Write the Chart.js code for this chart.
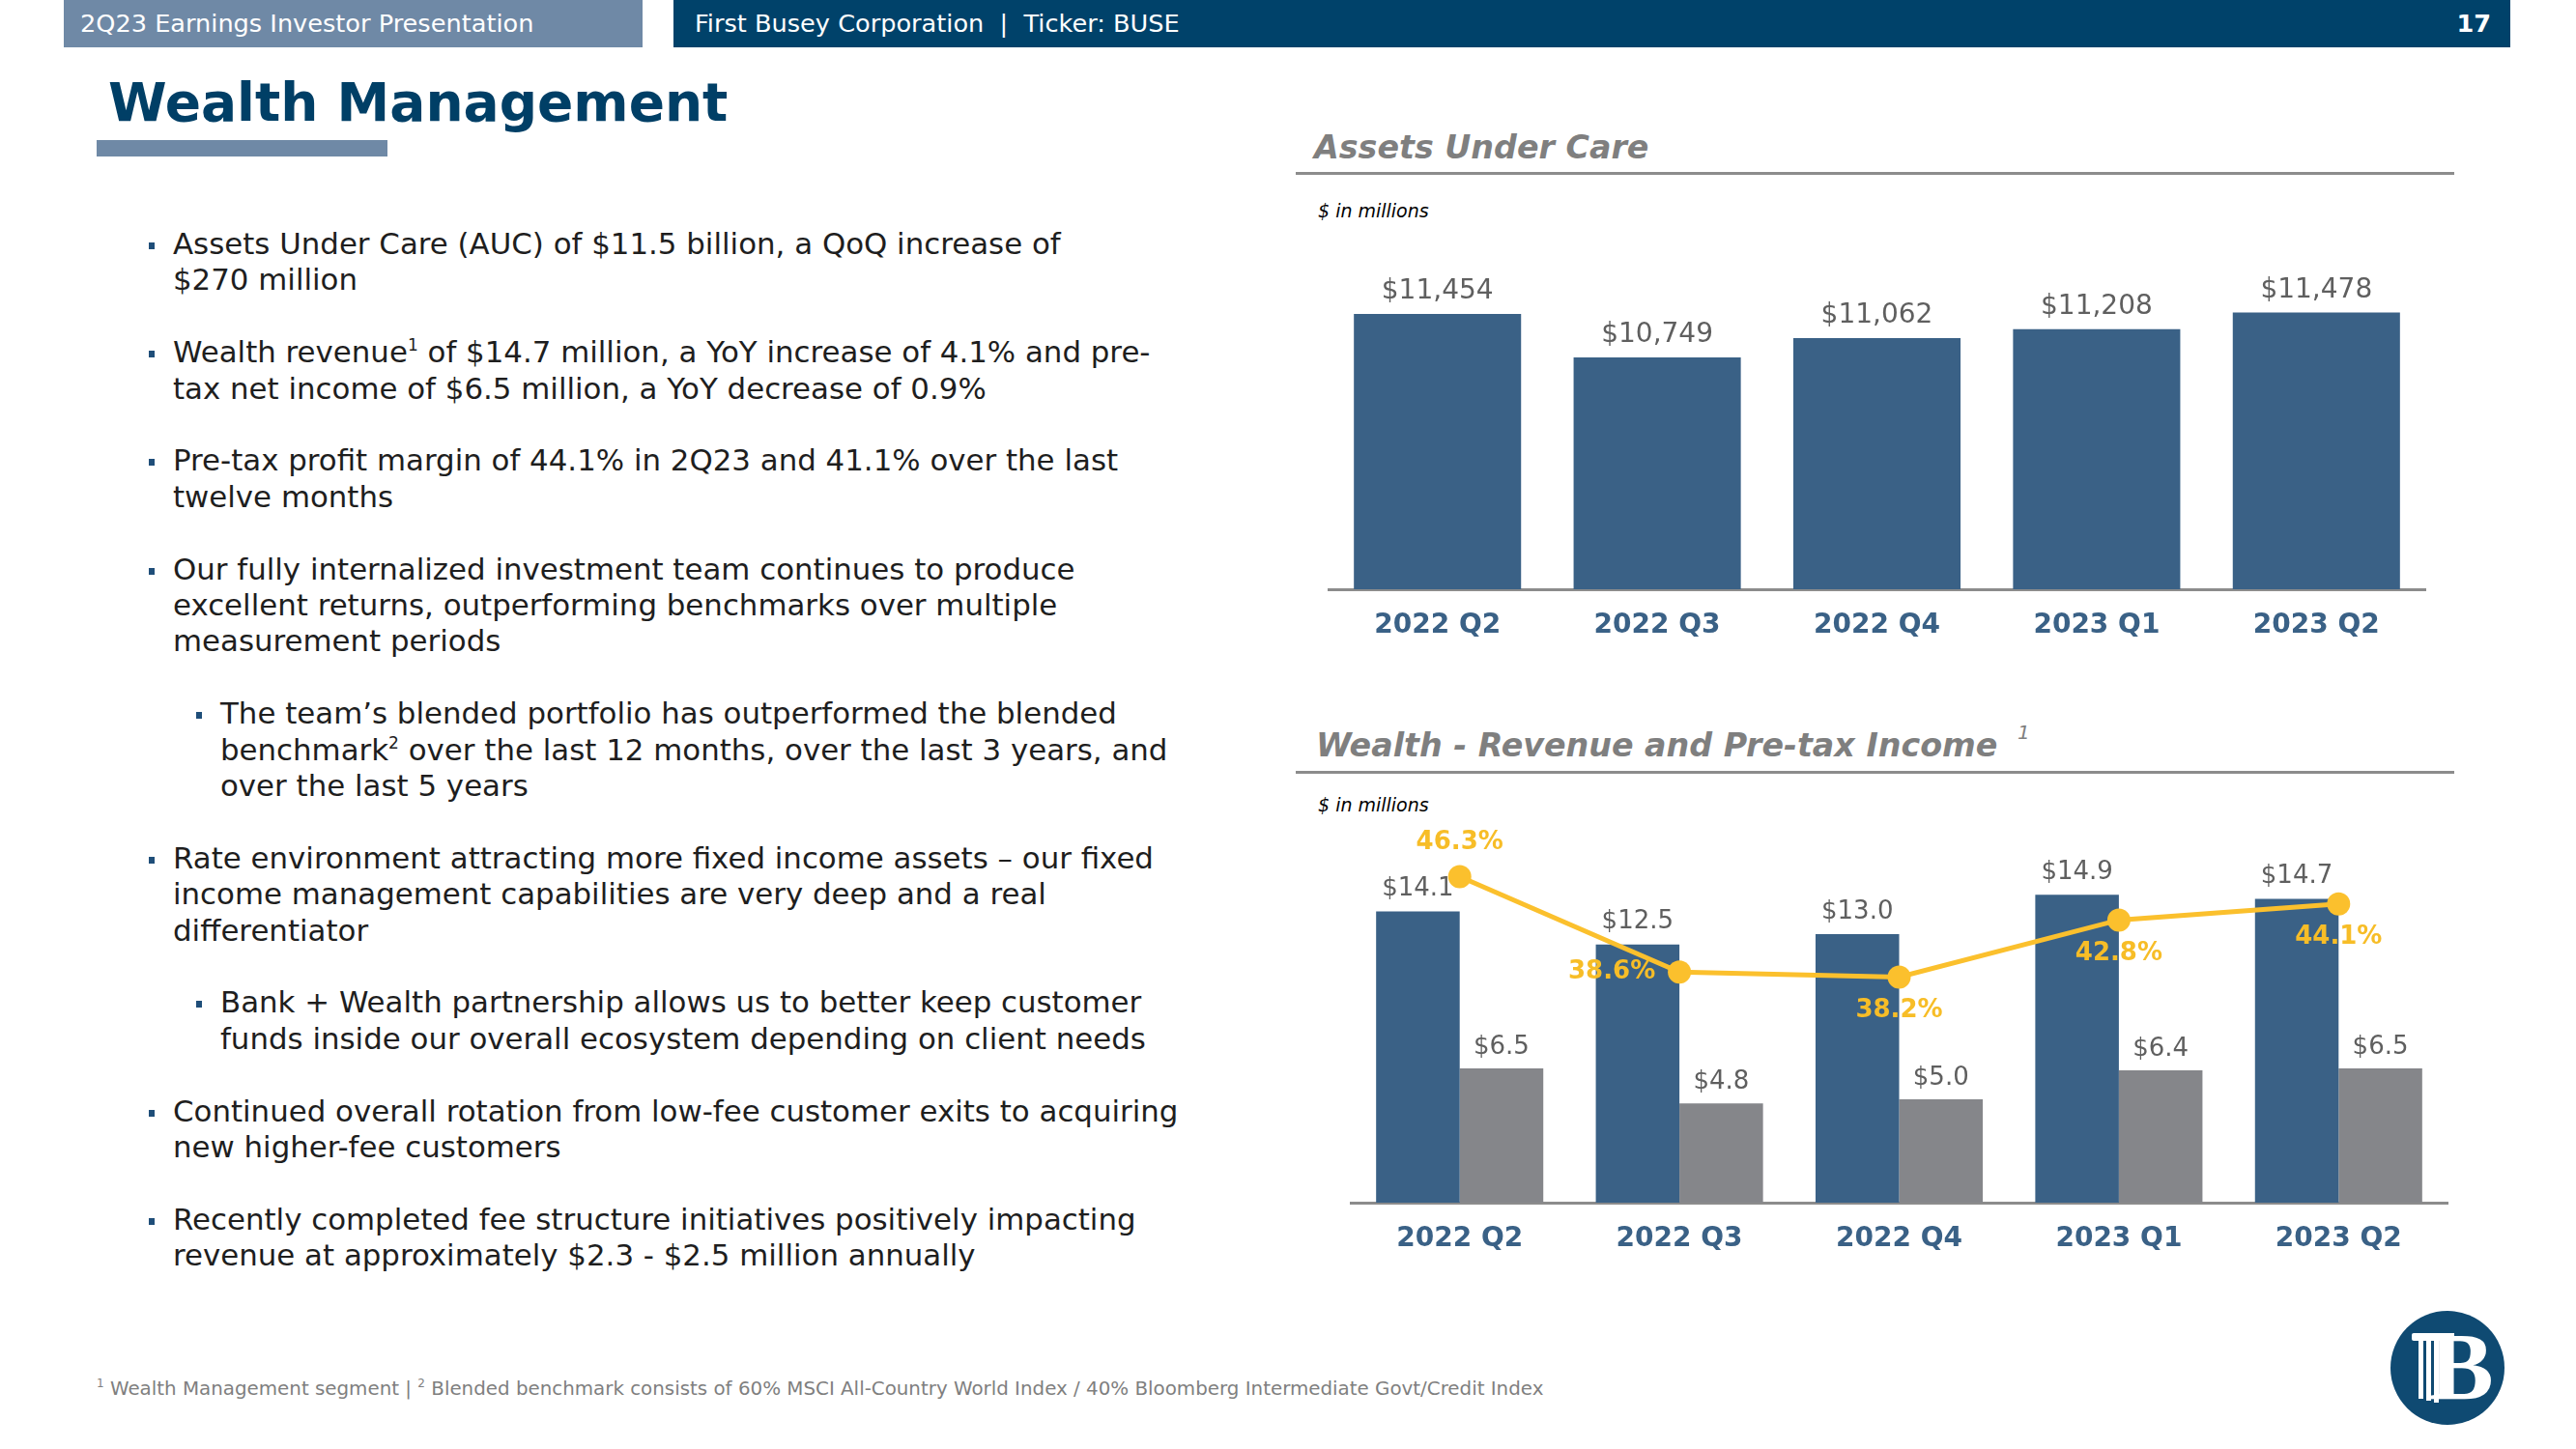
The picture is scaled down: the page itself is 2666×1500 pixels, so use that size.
<!DOCTYPE html>
<html>
<head>
<meta charset="utf-8">
<script src="https://cdn.jsdelivr.net/npm/chart.js@4.4.0/dist/chart.umd.min.js"></script>
<style>
  html, body { margin:0; padding:0; background:#fff; }
  body { width:2666px; height:1500px; position:relative; overflow:hidden; font-family:"DejaVu Sans", Verdana, sans-serif; }
  .abs { position:absolute; white-space:nowrap; }
  .hdr { position:absolute; top:0; height:49px; line-height:49px; color:#fff; font-size:25.6px; box-sizing:border-box; white-space:nowrap; }
  #bullets { position:absolute; left:179px; top:234px; font-size:30.85px; line-height:37.4px; color:#1e1e1e; white-space:nowrap; }
  #bullets .p { position:relative; margin-bottom:37.4px; }
  #bullets .sub { margin-left:49px; }
  #bullets .m { position:absolute; left:-25px; top:17px; width:6px; height:7px; background:#1f4e79; }
  .sup { font-size:17px; position:relative; top:-12px; line-height:0; vertical-align:baseline; }
  .ctitle { position:absolute; font-size:33.3px; font-weight:bold; font-style:italic; color:#7f7f7f; line-height:40px; white-space:nowrap; }
  .cline { position:absolute; left:1341px; width:1199px; height:3px; background:#8c8c8c; }
  .unit { position:absolute; left:1364px; font-size:19px; font-style:italic; color:#000; line-height:24px; white-space:nowrap; }
  canvas { position:absolute; }
</style>
</head>
<body>

<div class="hdr" style="left:66px; width:599px; background:#6f89a6; padding-left:17px;">2Q23 Earnings Investor Presentation</div>
<div class="hdr" style="left:697px; width:1901px; background:#00426a; padding-left:22px;">First Busey Corporation&nbsp; |&nbsp; Ticker: BUSE</div>
<div class="hdr" style="left:2520px; width:58px; text-align:right; font-weight:bold;">17</div>

<div class="abs" style="left:112px; top:76px; font-size:55px; line-height:60px; font-weight:bold; color:#003f66;">Wealth Management</div>
<div class="abs" style="left:100px; top:145px; width:301px; height:17px; background:#6f89a6;"></div>

<div id="bullets">
  <div class="p"><span class="m"></span>Assets Under Care (AUC) of $11.5 billion, a QoQ increase of<br>$270 million</div>
  <div class="p"><span class="m"></span>Wealth revenue<span class="sup">1</span> of $14.7 million, a YoY increase of 4.1% and pre-<br>tax net income of $6.5 million, a YoY decrease of 0.9%</div>
  <div class="p"><span class="m"></span>Pre-tax profit margin of 44.1% in 2Q23 and 41.1% over the last<br>twelve months</div>
  <div class="p"><span class="m"></span>Our fully internalized investment team continues to produce<br>excellent returns, outperforming benchmarks over multiple<br>measurement periods</div>
  <div class="p sub"><span class="m"></span>The team’s blended portfolio has outperformed the blended<br>benchmark<span class="sup">2</span> over the last 12 months, over the last 3 years, and<br>over the last 5 years</div>
  <div class="p"><span class="m"></span>Rate environment attracting more fixed income assets – our fixed<br>income management capabilities are very deep and a real<br>differentiator</div>
  <div class="p sub"><span class="m"></span>Bank + Wealth partnership allows us to better keep customer<br>funds inside our overall ecosystem depending on client needs</div>
  <div class="p"><span class="m"></span>Continued overall rotation from low-fee customer exits to acquiring<br>new higher-fee customers</div>
  <div class="p"><span class="m"></span>Recently completed fee structure initiatives positively impacting<br>revenue at approximately $2.3 - $2.5 million annually</div>
</div>

<div class="abs" style="left:100px; top:1426px; font-size:19.85px; line-height:24px; color:#7f7f7f;"><span style="font-size:12px; position:relative; top:-8px; line-height:0;">1</span> Wealth Management segment | <span style="font-size:12px; position:relative; top:-8px; line-height:0;">2</span> Blended benchmark consists of 60% MSCI All-Country World Index / 40% Bloomberg Intermediate Govt/Credit Index</div>

<!-- Chart 1 frame -->
<div class="ctitle" style="left:1360px; top:133px;">Assets Under Care</div>
<div class="cline" style="top:178px;"></div>
<div class="unit" style="top:206px;">$ in millions</div>

<!-- Chart 2 frame -->
<div class="ctitle" style="left:1362px; top:752px;">Wealth - Revenue and Pre-tax Income</div>
<div class="abs" style="left:2088px; top:746px; font-size:20px; font-style:italic; color:#7f7f7f; line-height:24px;">1</div>
<div class="cline" style="top:798px;"></div>
<div class="unit" style="top:821px;">$ in millions</div>

<canvas id="c1" width="1137" height="452" style="left:1374px; top:218px;"></canvas>
<canvas id="c2" width="1137" height="485" style="left:1397px; top:820px;"></canvas>

<!-- logo -->
<div class="abs" style="left:2474px; top:1357px; width:118px; height:118px; border-radius:50%; background:#0f4a72; overflow:hidden;">
  <div style="position:absolute; left:22px; top:23px; width:44px; height:8px; background:#fff; border-radius:2px 0 0 2px;"></div>
  <div style="position:absolute; left:29px; top:31px; width:5px; height:60px; background:#fff;"></div>
  <div style="position:absolute; left:37px; top:31px; width:5px; height:62px; background:#fff;"></div>
  <div style="position:absolute; left:45px; top:31px; width:5px; height:64px; background:#fff;"></div>
  <div style="position:absolute; left:40px; top:8px; font-family:'Liberation Serif', 'DejaVu Serif', serif; font-weight:bold; font-size:100px; line-height:100px; color:#fff;">B</div>
</div>

<script>
// ---- data ----
const categories = ['2022 Q2', '2022 Q3', '2022 Q4', '2023 Q1', '2023 Q2'];
const aucValues = [11454, 10749, 11062, 11208, 11478];
const revenueValues = [14.1, 12.5, 13.0, 14.9, 14.7];
const pretaxValues = [6.5, 4.8, 5.0, 6.4, 6.5];
const marginValues = [46.3, 38.6, 38.2, 42.8, 44.1];

Chart.defaults.font.family = "'DejaVu Sans', Verdana, sans-serif";

const valueLabels = {
  id: 'valueLabels',
  afterDatasetsDraw(chart) {
    const ctx = chart.ctx;
    chart.data.datasets.forEach((ds, di) => {
      const lab = ds.valueLabel;
      if (!lab) return;
      const meta = chart.getDatasetMeta(di);
      meta.data.forEach((el, i) => {
        const text = lab.format(ds.data[i]);
        const pos = Array.isArray(lab.position) ? lab.position[i] : lab.position;
        let x = el.x, y = el.y;
        if (pos === 'top') y -= lab.offset;
        else if (pos === 'bottom') y += lab.offset;
        else if (pos === 'left') x -= lab.offsetX;
        ctx.save();
        ctx.font = lab.font;
        ctx.fillStyle = lab.color;
        ctx.textAlign = 'center';
        ctx.textBaseline = 'middle';
        ctx.fillText(text, x, y);
        ctx.restore();
      });
    });
  }
};

const xScale = {
  grid: { display: false, drawTicks: false },
  border: { display: true, color: '#8c8c8c', width: 3 },
  ticks: { color: '#3a6186', font: { size: 28, weight: 'bold' }, padding: 21 },
  afterFit(s) { s.height = 60; }
};

new Chart(document.getElementById('c1'), {
  type: 'bar',
  data: {
    labels: categories,
    datasets: [{
      data: aucValues,
      backgroundColor: '#3a6186',
      categoryPercentage: 0.761,
      barPercentage: 1,
      valueLabel: { format: v => '$' + v.toLocaleString('en-US'), position: 'top', offset: 23,
                    font: "28px 'DejaVu Sans'", color: '#5f5f5f' }
    }]
  },
  options: {
    responsive: false, animation: false,
    layout: { autoPadding: false, padding: { top: 40, left: 0, right: 0, bottom: 0 } },
    plugins: { legend: { display: false }, tooltip: { enabled: false } },
    scales: {
      x: xScale,
      y: { display: false, min: 7000, max: 12500 }
    }
  },
  plugins: [valueLabels]
});

new Chart(document.getElementById('c2'), {
  type: 'bar',
  data: {
    labels: categories,
    datasets: [
      {
        type: 'line',
        data: marginValues,
        yAxisID: 'y2',
        borderColor: '#fbc02d',
        borderWidth: 5,
        pointRadius: 12,
        pointBackgroundColor: '#fbc02d',
        pointBorderWidth: 0,
        tension: 0,
        clip: false,
        order: 0,
        valueLabel: { format: v => v.toFixed(1) + '%', position: ['top', 'left', 'bottom', 'bottom', 'bottom'],
                      offset: 35, offsetX: 70, font: "bold 26px 'DejaVu Sans'", color: '#f7bd27' }
      },
      {
        data: revenueValues,
        backgroundColor: '#3a6186',
        categoryPercentage: 0.761,
        barPercentage: 1,
        order: 1,
        valueLabel: { format: v => '$' + v.toFixed(1), position: 'top', offset: 23,
                      font: "26px 'DejaVu Sans'", color: '#5f5f5f' }
      },
      {
        data: pretaxValues,
        backgroundColor: '#85868a',
        categoryPercentage: 0.761,
        barPercentage: 1,
        order: 1,
        valueLabel: { format: v => '$' + v.toFixed(1), position: 'top', offset: 22,
                      font: "26px 'DejaVu Sans'", color: '#5f5f5f' }
      }
    ]
  },
  options: {
    responsive: false, animation: false,
    layout: { autoPadding: false, padding: { top: 40, left: 0, right: 0, bottom: 0 } },
    plugins: { legend: { display: false }, tooltip: { enabled: false } },
    scales: {
      x: xScale,
      y: { display: false, min: 0, max: 18 },
      y2: { display: false, position: 'right', min: 20, max: 50 }
    }
  },
  plugins: [valueLabels]
});
</script>
</body>
</html>
